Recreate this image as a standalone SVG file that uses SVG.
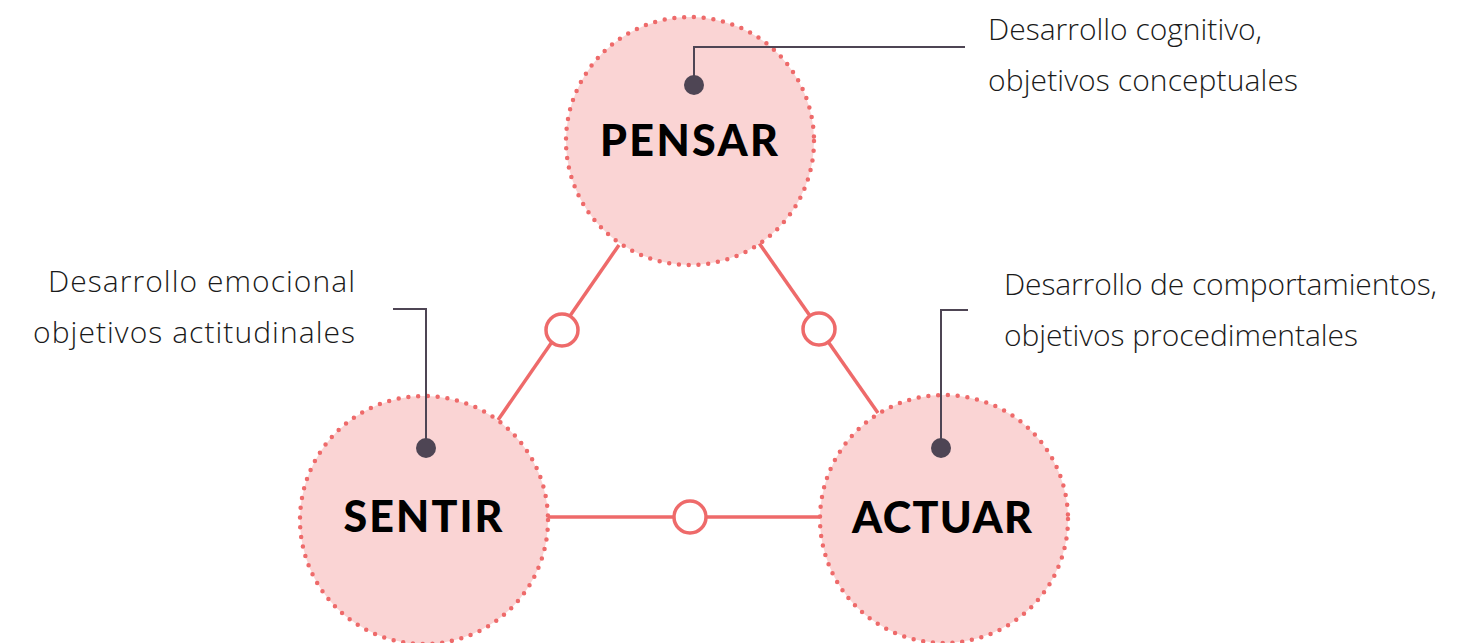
<svg xmlns="http://www.w3.org/2000/svg" width="1472" height="643" viewBox="0 0 1472 643">
<style>
.big{fill:#fad4d4;stroke:#ee6a6a;stroke-width:4.5;stroke-linecap:round;stroke-dasharray:0 9.8}
.conn{stroke:#ee6a6a;stroke-width:3.5;fill:none}
.knot{fill:#fff;stroke:#ee6a6a;stroke-width:3.5}
.lead{stroke:#4e4554;stroke-width:2;fill:none}
.pin{fill:#4e4554}
.lbl{font-family:Lato,"Liberation Sans",sans-serif;font-weight:900;font-size:43px;fill:#000;text-anchor:middle}
.note{font-family:"Open Sans","Liberation Sans",sans-serif;font-weight:300;font-size:30px;fill:#1a1a1a}
</style>
<rect width="1472" height="643" fill="#fff"/>
<g id="connectors">
<line class="conn" x1="619" y1="245" x2="498" y2="420"/>
<line class="conn" x1="759" y1="243" x2="878" y2="413"/>
<line class="conn" x1="548" y1="517" x2="822" y2="517"/>
<circle class="knot" cx="562" cy="330" r="16"/>
<circle class="knot" cx="819" cy="329" r="16"/>
<circle class="knot" cx="690" cy="517" r="16"/>
</g>
<g id="pensar">
<circle class="big" cx="690" cy="141" r="124"/>
<text class="lbl" x="689" y="156" textLength="178" lengthAdjust="spacing">PENSAR</text>
</g>
<g id="sentir">
<circle class="big" cx="424" cy="520" r="124"/>
<text class="lbl" x="423" y="532" textLength="159" lengthAdjust="spacing">SENTIR</text>
</g>
<g id="actuar">
<circle class="big" cx="944" cy="519" r="124"/>
<text class="lbl" x="942" y="533" textLength="180" lengthAdjust="spacing">ACTUAR</text>
</g>
<g id="note-pensar">
<polyline class="lead" points="694,85 694,47 965,47"/>
<circle class="pin" cx="694" cy="85" r="10"/>
<text class="note" x="988" y="40" textLength="274" lengthAdjust="spacing">Desarrollo cognitivo,</text>
<text class="note" x="988" y="91" textLength="310" lengthAdjust="spacing">objetivos conceptuales</text>
</g>
<g id="note-sentir">
<polyline class="lead" points="426,448 426,309 393,309"/>
<circle class="pin" cx="426" cy="448" r="10"/>
<text class="note" x="48" y="292" textLength="307" lengthAdjust="spacing">Desarrollo emocional</text>
<text class="note" x="33" y="343" textLength="322" lengthAdjust="spacing">objetivos actitudinales</text>
</g>
<g id="note-actuar">
<polyline class="lead" points="941,448 941,310 968,310"/>
<circle class="pin" cx="941" cy="448" r="10"/>
<text class="note" x="1004" y="295" textLength="433" lengthAdjust="spacing">Desarrollo de comportamientos,</text>
<text class="note" x="1004" y="346" textLength="354" lengthAdjust="spacing">objetivos procedimentales</text>
</g>
</svg>
